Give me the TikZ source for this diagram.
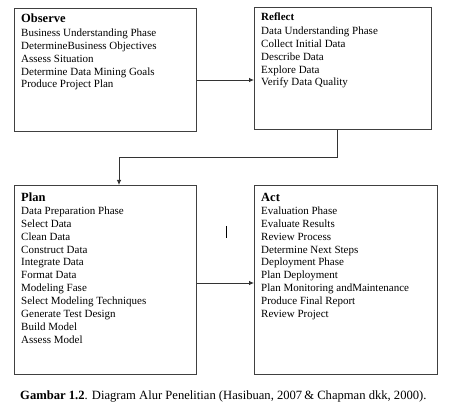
\documentclass[tikz,border=0pt]{standalone}
\usepackage{fontspec}
\setmainfont{Liberation Serif}
\usetikzlibrary{arrows.meta}
\begin{document}
\begin{tikzpicture}[x=1pt,y=-1pt,
  box/.style={draw=black!75, line width=0.9pt, rectangle, inner sep=0pt, anchor=north west},
  arr/.style={draw=black!80, line width=0.8pt, -{Latex[length=5pt,width=4.5pt]}},
  ln/.style={anchor=base west, inner sep=0pt, font=\fontsize{11}{12.85}\selectfont},
  ttl/.style={anchor=base west, inner sep=0pt, font=\fontsize{12.5}{14}\selectfont\bfseries},
  ttls/.style={anchor=base west, inner sep=0pt, font=\fontsize{11}{13}\selectfont\bfseries}]
\useasboundingbox (0,0) rectangle (450,406);
% boxes
\node[box, minimum width=182pt, minimum height=123pt] (obs) at (14,8) {};
\node[box, minimum width=177pt, minimum height=122pt] (ref) at (254,7) {};
\node[box, minimum width=182pt, minimum height=189pt] (plan) at (14,185) {};
\node[box, minimum width=183pt, minimum height=189pt] (act) at (254,185) {};
% Observe
\node[ttl] (obsT) at (21,23) {Observe};
\foreach \t [count=\i from 0] in {Business Understanding Phase,DetermineBusiness Objectives,Assess Situation,Determine Data Mining Goals,Produce Project Plan}
  \node[ln] (obs\i) at (21,36.5+12.85*\i) {\t};
% Reflect
\node[ttls] (refT) at (261,20.5) {Reflect};
\foreach \t [count=\i from 0] in {Data Understanding Phase,Collect Initial Data,Describe Data,Explore Data,Verify Data Quality}
  \node[ln] (ref\i) at (261,34.5+12.85*\i) {\t};
% Plan
\node[ttl] (planT) at (21,201.5) {Plan};
\foreach \t [count=\i from 0] in {Data Preparation Phase,Select Data,Clean Data,Construct Data,Integrate Data,Format Data,Modeling Fase,Select Modeling Techniques,Generate Test Design,Build Model,Assess Model}
  \node[ln] (plan\i) at (21,214.5+12.85*\i) {\t};
% Act
\node[ttl] (actT) at (261,201.5) {Act};
\foreach \t [count=\i from 0] in {Evaluation Phase,Evaluate Results,Review Process,Determine Next Steps,Deployment Phase,Plan Deployment,Plan Monitoring andMaintenance,Produce Final Report,Review Project}
  \node[ln] (act\i) at (261,214.5+12.85*\i) {\t};
% connectors
\coordinate (y1) at (0,80);
\coordinate (y2) at (0,283);
\coordinate (r1) at (337,0);
\coordinate (p1) at (119,0);
\coordinate (mid) at (0,157);
\draw[arr] (obs.east |- y1) -- (ref.west |- y1);
\draw[arr] (ref.south -| r1) |- (mid -| p1) -- (plan.north -| p1);
\draw[arr] (plan.east |- y2) -- (act.west |- y2);
% stray mark
\draw[black, line width=0.8pt] (226,226) -- (226,238);
% caption
\node[anchor=base west, inner sep=0pt, font=\fontsize{12.6}{14}\selectfont] (cap) at (20,399) {\textbf{Gambar 1.2}. Diagram Alur Penelitian (Hasibuan, 2007\,\& Chapman dkk, 2000).};
\end{tikzpicture}
\end{document}
